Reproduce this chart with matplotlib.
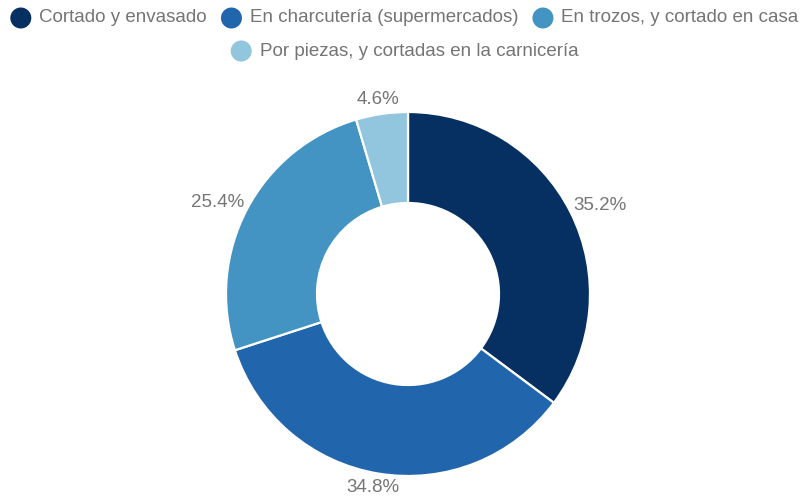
import numpy as np
import matplotlib
matplotlib.use("Agg")
import matplotlib.pyplot as plt
from matplotlib.patches import Circle

categories = [
    "Cortado y envasado",
    "En charcutería (supermercados)",
    "En trozos, y cortado en casa",
    "Por piezas, y cortadas en la carnicería",
]
shares = [35.2, 34.8, 25.4, 4.6]
colors = ["#053061", "#2166ac", "#4393c3", "#92c5de"]

W, H, DPI = 805, 499, 100
plt.rcParams["font.family"] = ["Liberation Sans", "DejaVu Sans"]
text_color = "#757575"

fig = plt.figure(figsize=(W / DPI, H / DPI), dpi=DPI)
fig.patch.set_facecolor("white")

# Axes cover the whole figure; one data unit equals the donut radius in pixels
R_PX = 182.0
cx, cy = 408.0, H - 294.0
ax = fig.add_axes([0, 0, 1, 1])

wedges, _ = ax.pie(
    shares,
    colors=colors,
    startangle=90,
    counterclock=False,
    radius=1.0,
    wedgeprops=dict(width=0.5, edgecolor="white", linewidth=1.6),
)
ax.set_aspect("auto")
ax.set_xlim(-cx / R_PX, (W - cx) / R_PX)
ax.set_ylim(-cy / R_PX, (H - cy) / R_PX)
ax.axis("off")

# Percentage labels just outside each slice
fig.canvas.draw()
renderer = fig.canvas.get_renderer()
total = sum(shares)
start = 0.0
for v in shares:
    mid = (start + v / 2) / total * 2 * np.pi
    start += v
    dx, dy = np.sin(mid), np.cos(mid)
    t = ax.text(0, 0, f"{v:.1f}%", fontsize=13.5, color=text_color,
                ha="center", va="center")
    bb = t.get_window_extent(renderer)
    w, h = bb.width / R_PX, bb.height / R_PX
    r0 = 188.0 / R_PX
    t.set_position((dx * r0 + dx * w / 2, dy * r0 + dy * h / 2))

# Legend: circle markers followed by labels, rows centred
fs_leg = 13.5
marker_r = 10.5
gap_marker_text = 8.0
gap_items = 14.0
rows = [categories[:3], categories[3:]]
row_y = [H - 18.0, H - 51.0]
color_of = dict(zip(categories, colors))
for labels, y in zip(rows, row_y):
    widths = []
    for lab in labels:
        t = fig.text(0, 0, lab, fontsize=fs_leg)
        widths.append(t.get_window_extent(renderer).width)
        t.remove()
    total_w = sum(2 * marker_r + gap_marker_text + wd for wd in widths) + gap_items * (len(labels) - 1)
    x = (W - total_w) / 2 + 2
    for lab, wd in zip(labels, widths):
        c = Circle((x + marker_r, y), marker_r, transform=None,
                   facecolor=color_of[lab], edgecolor="none")
        fig.patches.append(c)
        c.set_figure(fig)
        fig.text((x + 2 * marker_r + gap_marker_text) / W, y / H, lab,
                 fontsize=fs_leg, color=text_color, ha="left", va="center")
        x += 2 * marker_r + gap_marker_text + wd + gap_items

fig.savefig("out.png", dpi=DPI, facecolor="white")
